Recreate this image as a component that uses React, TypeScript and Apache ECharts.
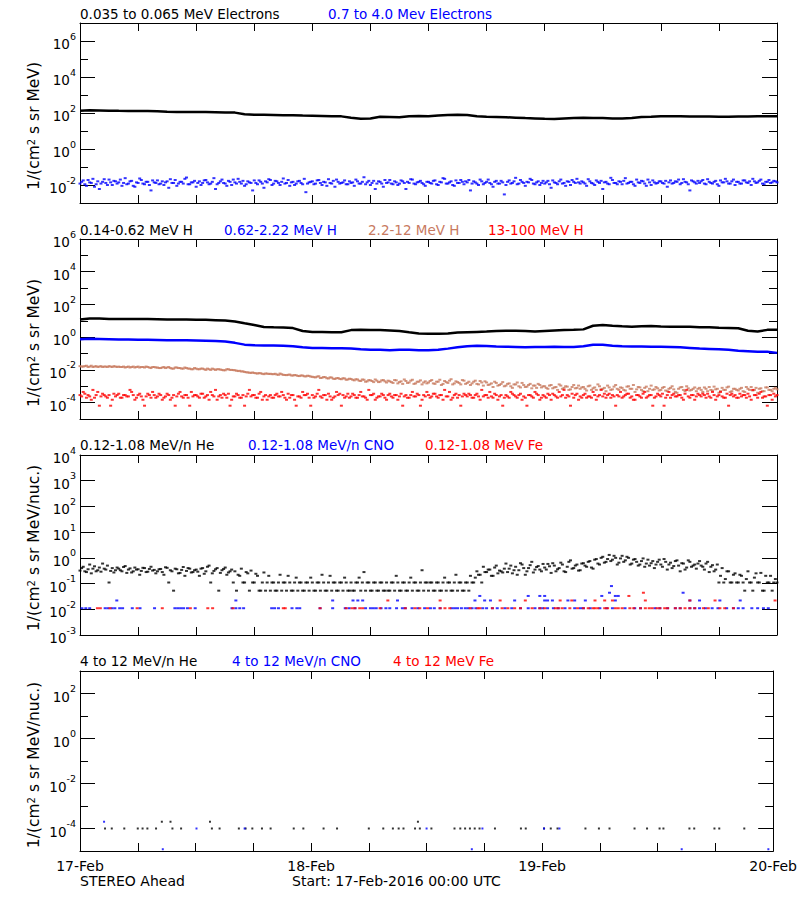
import React, { useEffect, useRef } from 'react';
import * as echarts from 'echarts';

const FONT = 'DejaVu Sans';
const BLACK = '#000000';
const BLUE = '#0000ff';
const RED = '#ff0000';
const BROWN = '#c87a5f';

// time bases (hours since 17-Feb-2016 00:00 UTC)
const hourly = Array.from({ length: 73 }, (_, i) => i);
const cadence20 = Array.from({ length: 217 }, (_, i) => i / 3);
const cadence20b = Array.from({ length: 216 }, (_, i) => i / 3 + 1 / 6);

const dayLabels = ['17-Feb', '18-Feb', '19-Feb', '20-Feb'];
const footLeft = 'STEREO Ahead';
const footRight = 'Start: 17-Feb-2016 00:00 UTC';
const yNames = [
  '1/(cm{s|2} s sr MeV)',
  '1/(cm{s|2} s sr MeV)',
  '1/(cm{s|2} s sr MeV/nuc.)',
  '1/(cm{s|2} s sr MeV/nuc.)',
];
const titles = [
  ['0.035 to 0.065 MeV Electrons', '0.7 to 4.0 Mev Electrons'],
  ['0.14-0.62 MeV H', '0.62-2.22 MeV H', '2.2-12 MeV H', '13-100 MeV H'],
  ['0.12-1.08 MeV/n He', '0.12-1.08 MeV/n CNO', '0.12-1.08 MeV Fe'],
  ['4 to 12 MeV/n He', '4 to 12 MeV/n CNO', '4 to 12 MeV Fe'],
];

// Panel 1: electrons
const eLow = [135,140,138,135,132,130,130,128,125,118,115,115,112,112,110,108,105,85,80,80,78,76,75,72,70,68,66,65,55,48,50,62,60,58,65,68,65,72,78,80,78,66,62,60,58,55,52,50,48,47,50,52,54,52,52,50,50,52,60,62,65,66,65,64,64,63,62,62,63,64,65,66,65];
const eHigh = [
  0.012,0.018,0.009,0.014,0.022,0.011,0.006,0.015,0.013,0.02,0.01,0.016,
  0.014,0.009,0.024,0.012,0.017,0.008,0.013,0.019,0.011,0.015,0.005,0.014,
  0.018,0.012,0.01,0.016,0.021,0.013,0.009,0.015,0.012,0.026,0.011,0.014,
  0.008,0.016,0.013,0.019,0.011,0.015,0.006,0.013,0.02,0.012,0.017,0.01,
  0.014,0.022,0.012,0.009,0.016,0.013,0.018,0.011,0.015,0.007,0.014,0.019,
  0.012,0.016,0.01,0.023,0.013,0.009,0.015,0.012,0.017,0.011,0.004,0.014,
  0.016,0.012,0.019,0.01,0.014,0.021,0.012,0.008,0.015,0.013,0.018,0.011,
  0.013,0.009,0.016,0.012,0.027,0.014,0.01,0.017,0.012,0.015,0.008,0.013,
  0.019,0.011,0.014,0.012,0.016,0.006,0.013,0.02,0.011,0.015,0.013,0.009,
  0.015,0.012,0.018,0.01,0.014,0.022,0.012,0.016,0.009,0.013,0.019,0.011,
  0.014,0.005,0.016,0.012,0.02,0.011,0.015,0.013,0.008,0.017,0.012,0.014,
  0.01,0.018,0.013,0.025,0.012,0.015,0.009,0.014,0.019,0.011,0.016,0.013,
  0.012,0.017,0.007,0.014,0.011,0.02,0.013,0.016,0.01,0.015,0.022,0.012,
  0.014,0.009,0.016,0.012,0.018,0.013,0.006,0.015,0.011,0.019,0.013,0.016,
  0.011,0.024,0.013,0.015,0.009,0.014,0.017,0.012,0.02,0.01,0.014,0.013,
  0.016,0.012,0.008,0.018,0.013,0.015,0.011,0.021,0.014,0.005,0.016,0.012,
  0.013,0.019,0.011,0.015,0.012,0.017,0.009,0.014,0.022,0.012,0.016,0.01,
  0.015,0.012,0.018,0.013,0.01,0.016,0.014,0.02,0.011,0.015,0.013,0.017,
  0.014,
];
const eHighB = [
  0.015,0.011,0.019,0.013,0.008,0.016,0.012,0.021,0.01,0.014,0.017,0.012,
  0.02,0.013,0.011,0.016,0.009,0.014,0.023,0.012,0.015,0.01,0.018,0.013,
  0.011,0.016,0.014,0.007,0.013,0.019,0.012,0.015,0.022,0.011,0.014,0.017,
  0.013,0.01,0.018,0.014,0.012,0.024,0.011,0.016,0.013,0.009,0.015,0.02,
  0.012,0.015,0.017,0.011,0.014,0.005,0.013,0.018,0.012,0.016,0.021,0.01,
  0.017,0.013,0.015,0.012,0.019,0.014,0.01,0.016,0.013,0.022,0.012,0.015,
  0.011,0.018,0.013,0.015,0.009,0.013,0.017,0.02,0.012,0.014,0.011,0.016,
  0.014,0.02,0.012,0.015,0.011,0.017,0.013,0.006,0.016,0.012,0.019,0.014,
  0.012,0.016,0.01,0.018,0.013,0.015,0.021,0.012,0.014,0.017,0.011,0.015,
  0.013,0.017,0.011,0.015,0.024,0.012,0.014,0.01,0.018,0.013,0.015,0.016,
  0.019,0.012,0.014,0.01,0.016,0.013,0.02,0.011,0.015,0.012,0.017,0.003,
  0.015,0.012,0.016,0.011,0.019,0.013,0.015,0.022,0.012,0.014,0.01,0.017,
  0.014,0.011,0.018,0.013,0.016,0.012,0.009,0.015,0.019,0.013,0.014,0.016,
  0.012,0.021,0.013,0.01,0.015,0.017,0.014,0.012,0.025,0.013,0.011,0.015,
  0.017,0.012,0.015,0.011,0.02,0.013,0.016,0.009,0.014,0.018,0.012,0.016,
  0.013,0.017,0.014,0.012,0.016,0.02,0.013,0.015,0.011,0.018,0.014,0.017,
  0.016,0.012,0.021,0.013,0.015,0.011,0.018,0.014,0.016,0.012,0.02,0.015,
  0.012,0.018,0.014,0.016,0.022,0.013,0.017,0.012,0.015,0.019,0.014,0.016,
];

// Panel 2: protons
const hLow = [12,14,14,13,13,13,13,13,12.5,12,12,12,11.5,11.5,11,10.5,9,7,5.5,4.2,4,3.9,3.6,2.4,2.1,2.1,2,2,2.7,2.8,2.7,2.7,2.6,2.4,2,1.7,1.6,1.6,1.7,1.9,2,2.1,2.2,2.4,2.5,2.5,2.4,2.2,2.4,2.6,2.7,2.8,3,5,5.5,5,4.6,4.4,4.6,4.8,4.5,4.3,4.4,4.3,4.1,4,3.8,3.7,3.5,2.5,2.2,2.8,2.8];
const hMid = [0.75,0.8,0.78,0.75,0.72,0.72,0.7,0.7,0.68,0.66,0.65,0.64,0.62,0.6,0.58,0.55,0.45,0.35,0.32,0.31,0.31,0.3,0.28,0.24,0.22,0.22,0.21,0.21,0.2,0.18,0.17,0.17,0.16,0.17,0.17,0.16,0.16,0.17,0.2,0.24,0.28,0.3,0.29,0.27,0.26,0.25,0.24,0.25,0.25,0.26,0.25,0.25,0.28,0.35,0.34,0.3,0.28,0.27,0.27,0.26,0.26,0.25,0.24,0.22,0.2,0.19,0.18,0.17,0.15,0.14,0.13,0.13,0.11];
const hHigh = [
  0.017,0.016,0.018,0.016,0.015,0.017,0.016,0.015,0.016,0.017,0.015,0.016,
  0.016,0.015,0.014,0.016,0.015,0.014,0.016,0.015,0.014,0.015,0.013,0.015,
  0.014,0.013,0.015,0.014,0.013,0.012,0.014,0.013,0.012,0.013,0.012,0.011,
  0.012,0.011,0.012,0.01,0.011,0.012,0.01,0.011,0.01,0.0095,0.011,0.01,
  0.0095,0.0085,0.008,0.0075,0.007,0.0065,0.0065,0.006,0.0062,0.0055,0.006,0.0058,
  0.0055,0.0052,0.006,0.005,0.0048,0.0052,0.0045,0.0047,0.0042,0.0045,0.004,0.0043,
  0.0038,0.0035,0.0041,0.0033,0.0036,0.003,0.0034,0.0028,0.0032,0.0027,0.003,0.0026,
  0.0028,0.0023,0.0026,0.0021,0.0025,0.002,0.0023,0.0018,0.0022,0.0019,0.0024,0.0017,
  0.002,0.0016,0.0023,0.0018,0.0014,0.0021,0.0017,0.0025,0.0015,0.0019,0.0013,0.002,
  0.0017,0.0024,0.0014,0.0019,0.0012,0.0021,0.0016,0.0027,0.0015,0.0018,0.0013,0.0022,
  0.0016,0.0012,0.0019,0.0014,0.0021,0.0011,0.0017,0.0013,0.0009,0.0016,0.0012,0.0018,
  0.0011,0.0015,0.0008,0.0013,0.001,0.0016,0.0009,0.0012,0.00075,0.0011,0.0014,0.00085,
  0.001,0.0007,0.0012,0.00085,0.0006,0.0011,0.0008,0.00095,0.00065,0.0012,0.0008,0.0007,
  0.0009,0.00055,0.0011,0.00075,0.0006,0.001,0.0007,0.0005,0.00085,0.00065,0.0012,0.0006,
  0.0008,0.00055,0.001,0.0007,0.00045,0.0009,0.0006,0.0008,0.0005,0.0011,0.00065,0.00075,
  0.0006,0.0009,0.0005,0.0008,0.00065,0.0004,0.00085,0.0006,0.001,0.00055,0.0007,0.0005,
  0.0008,0.00045,0.0007,0.0009,0.00055,0.00065,0.0004,0.0008,0.0006,0.00095,0.0005,0.0007,
  0.00055,0.0008,0.00045,0.0007,0.0009,0.0006,0.0004,0.00075,0.0005,0.00085,0.0006,0.0007,
  0.00065,
];
const hHighB = [
  0.016,0.017,0.015,0.018,0.016,0.015,0.017,0.016,0.015,0.016,0.017,0.015,
  0.015,0.016,0.015,0.014,0.016,0.015,0.014,0.015,0.016,0.014,0.015,0.014,
  0.013,0.014,0.013,0.015,0.012,0.014,0.013,0.012,0.014,0.012,0.011,0.013,
  0.011,0.012,0.011,0.012,0.01,0.011,0.011,0.0105,0.0095,0.011,0.01,0.0098,
  0.009,0.0088,0.0082,0.0072,0.0068,0.007,0.0062,0.0064,0.0058,0.006,0.0056,0.0055,
  0.0058,0.005,0.0054,0.0049,0.005,0.0046,0.0049,0.0043,0.0046,0.0041,0.0044,0.0039,
  0.0036,0.0039,0.0032,0.0037,0.0031,0.0035,0.0029,0.0031,0.0028,0.0031,0.0025,0.0029,
  0.0025,0.0027,0.0022,0.0026,0.0019,0.0024,0.0021,0.0026,0.0018,0.0023,0.002,0.0022,
  0.0018,0.0024,0.0015,0.002,0.0026,0.0016,0.0022,0.0014,0.0019,0.0023,0.0017,0.0015,
  0.0021,0.0015,0.0019,0.0025,0.0014,0.0018,0.0022,0.0013,0.002,0.0016,0.0024,0.0014,
  0.0019,0.0015,0.0022,0.0013,0.0017,0.002,0.0012,0.0015,0.0019,0.0011,0.0014,0.001,
  0.0014,0.001,0.0013,0.0017,0.00085,0.0012,0.00095,0.0014,0.0011,0.0008,0.0012,0.001,
  0.0008,0.0011,0.00075,0.0009,0.0013,0.0007,0.001,0.0006,0.0009,0.00075,0.0011,0.00085,
  0.0007,0.001,0.0006,0.00085,0.0013,0.00065,0.0008,0.0011,0.0006,0.00095,0.0007,0.00085,
  0.0006,0.00095,0.0007,0.0012,0.00065,0.00085,0.0005,0.00095,0.0007,0.0006,0.0009,0.00055,
  0.0008,0.00055,0.0007,0.001,0.00045,0.0007,0.0009,0.0005,0.00075,0.0006,0.00085,0.0007,
  0.0006,0.00085,0.0005,0.0006,0.00095,0.0007,0.0005,0.0006,0.00085,0.00045,0.0007,0.0006,
  0.0007,0.0005,0.0009,0.0006,0.00055,0.0008,0.0007,0.0005,0.00085,0.0006,0.0005,0.0008,
];
const hTop = [
  0.00029,0.00045,0.0002,0.00024,0.0006,0.00029,0.000065,0.00035,0.00024,0.00029,0.00015,0.00024,
  0.00035,0.0002,0.00029,0.00024,0.00045,0.00015,0.00029,0.00024,0.000065,0.00035,0.0002,0.00029,
  0.00024,0.00029,0.0002,0.00035,0.00015,0.00029,0.00024,0.00045,0.0002,0.00029,0.000065,0.00024,
  0.00029,0.0002,0.00035,0.00024,0.00015,0.00029,0.0006,0.00024,0.0002,0.00029,0.00035,0.00015,
  0.00024,0.00029,0.0002,0.000065,0.00035,0.00024,0.00029,0.0002,0.00045,0.00024,0.00015,0.00029,
  0.0002,0.00035,0.00024,0.00029,0.00015,0.0002,0.00029,0.000065,0.00024,0.00045,0.00029,0.0002,
  0.00029,0.00024,0.0006,0.0002,0.00029,0.00035,0.00015,0.00024,0.00029,0.000065,0.0002,0.00035,
  0.00024,0.00029,0.0002,0.00045,0.00024,0.00015,0.00029,0.00035,0.0002,0.00024,0.00029,0.00015,
  0.00035,0.0002,0.00029,0.00024,0.000065,0.00029,0.0002,0.00045,0.00024,0.00029,0.00015,0.00024,
  0.00029,0.00024,0.00035,0.0002,0.00029,0.0006,0.00024,0.00015,0.00029,0.0002,0.000065,0.00035,
  0.00024,0.00029,0.0002,0.00035,0.00015,0.00024,0.00029,0.00045,0.0002,0.00029,0.00024,0.000065,
  0.00029,0.0002,0.00035,0.00024,0.00029,0.00015,0.0002,0.00029,0.00024,0.00045,0.00029,0.0002,
  0.00024,0.00035,0.00015,0.00029,0.0002,0.00024,0.0006,0.00029,0.000065,0.0002,0.00035,0.00024,
  0.00029,0.0002,0.00024,0.00045,0.00015,0.00029,0.00024,0.0002,0.00035,0.00029,0.000065,0.00024,
  0.0002,0.00029,0.00035,0.00024,0.00015,0.00029,0.0002,0.00045,0.00024,0.00029,0.0002,0.00035,
  0.00024,0.000065,0.00029,0.0002,0.00035,0.00024,0.00029,0.00015,0.0006,0.0002,0.00029,0.00024,
  0.00029,0.00035,0.0002,0.00024,0.00045,0.00015,0.00029,0.00024,0.0002,0.000065,0.00035,0.00029,
  0.0002,0.00024,0.00029,0.00035,0.00015,0.00029,0.0002,0.00045,0.00024,0.000065,0.00029,0.00035,
  0.00029,
];
const hTopB = [
  0.00024,0.00035,0.00029,0.00015,0.0002,0.00045,0.00024,0.00029,0.0002,0.000065,0.00035,0.00029,
  0.0002,0.00029,0.00024,0.0006,0.00029,0.0002,0.00035,0.00015,0.00024,0.00029,0.00045,0.0002,
  0.00035,0.00015,0.00024,0.00029,0.0002,0.000065,0.00035,0.00024,0.00029,0.0002,0.00045,0.00029,
  0.00024,0.00035,0.0002,0.00029,0.00045,0.00024,0.00015,0.00029,0.00035,0.0002,0.000065,0.00024,
  0.00035,0.0002,0.00029,0.00024,0.0006,0.00029,0.0002,0.00035,0.00015,0.00029,0.00024,0.0002,
  0.00029,0.00024,0.00045,0.0002,0.00035,0.00029,0.00015,0.00024,0.0002,0.00029,0.00035,0.000065,
  0.0002,0.00035,0.00024,0.00029,0.00015,0.00024,0.0002,0.00045,0.00035,0.00029,0.00024,0.0002,
  0.00035,0.0002,0.00029,0.00024,0.0002,0.0006,0.00029,0.00015,0.00024,0.00035,0.0002,0.00029,
  0.00024,0.00029,0.00015,0.00035,0.00024,0.0002,0.00029,0.00024,0.00035,0.000065,0.00029,0.00045,
  0.0002,0.00035,0.00024,0.00029,0.00015,0.00024,0.00045,0.0002,0.00035,0.00029,0.00024,0.00029,
  0.00035,0.0002,0.00029,0.00024,0.0006,0.00029,0.0002,0.00024,0.00035,0.00015,0.00029,0.0002,
  0.00024,0.00045,0.00029,0.0002,0.00035,0.00024,0.000065,0.00029,0.0002,0.00035,0.00015,0.00029,
  0.0002,0.00029,0.00035,0.00024,0.00045,0.00029,0.0002,0.00024,0.00035,0.00029,0.00015,0.0002,
  0.00035,0.00024,0.0002,0.00029,0.00024,0.0006,0.00035,0.00029,0.0002,0.00024,0.00029,0.00045,
  0.00024,0.00035,0.0002,0.00015,0.00029,0.00024,0.00035,0.0002,0.00029,0.000065,0.00024,0.00029,
  0.00035,0.0002,0.00045,0.00029,0.00024,0.00029,0.0002,0.00035,0.00024,0.00029,0.00015,0.00035,
  0.00024,0.00029,0.00035,0.0002,0.00029,0.00024,0.00045,0.0002,0.00035,0.00029,0.00024,0.0002,
  0.00035,0.00029,0.0002,0.00024,0.0006,0.00029,0.00035,0.0002,0.00024,0.00029,0.00015,0.00024,
];

// Panel 3: 0.12-1.08 MeV/n ions
const heLow = [
  0.32,0.45,0.28,0.55,0.38,0.3,0.42,0.6,0.35,0.11,0.4,0.33,
  0.38,0.3,0.48,0.35,0.27,0.42,0.36,0.31,0.4,0.29,0.45,0.34,
  0.3,0.37,0.22,0.41,0.33,0.053,0.36,0.26,0.44,0.31,0.38,0.28,
  0.35,0.2,0.4,0.3,0.5,0.25,0.36,0.053,0.33,0.42,0.27,0.35,
  0.3,0.22,0.38,0.11,0.25,0.32,0.11,0.2,0.053,0.27,0.11,0.053,
  0.11,0.053,0.22,0.11,0.053,0.11,0.053,0.17,0.11,0.053,0.11,0.053,
  0.11,0.053,0.11,0.22,0.053,0.11,0.053,0.11,0.053,0.11,0.17,0.053,
  0.11,0.053,0.11,0.053,0.28,0.11,0.053,0.11,0.053,0.11,0.053,0.11,
  0.053,0.11,0.2,0.053,0.11,0.053,0.11,0.053,0.11,0.053,0.33,0.11,
  0.053,0.11,0.053,0.11,0.053,0.17,0.11,0.053,0.11,0.053,0.11,0.053,
  0.11,0.2,0.11,0.3,0.22,0.45,0.28,0.35,0.2,0.5,0.32,0.27,
  0.6,0.38,0.25,0.45,0.33,0.55,0.22,0.4,0.7,0.35,0.48,0.3,
  0.42,0.58,0.26,0.5,0.36,0.65,0.3,0.45,0.8,0.4,0.55,0.33,
  0.62,0.45,0.75,0.38,0.9,0.55,1.1,0.7,1.3,0.85,1.0,0.65,
  1.2,0.8,1.0,0.6,0.9,0.5,0.75,0.45,0.85,0.62,0.4,0.7,
  0.55,0.9,0.35,0.65,0.48,0.8,0.3,0.6,0.42,0.7,0.5,0.38,
  0.75,0.45,0.6,0.28,0.52,0.35,0.11,0.4,0.15,0.3,0.11,0.25,
  0.11,0.2,0.053,0.3,0.11,0.17,0.11,0.26,0.053,0.11,0.2,0.11,
  0.11,
];
const heLowB = [
  0.4,0.3,0.36,0.25,0.47,0.33,0.29,0.38,0.5,0.31,0.27,0.42,
  0.33,0.44,0.26,0.39,0.3,0.35,0.22,0.41,0.28,0.37,0.32,0.25,
  0.36,0.28,0.43,0.11,0.3,0.38,0.25,0.34,0.2,0.4,0.27,0.33,
  0.29,0.38,0.24,0.45,0.11,0.31,0.4,0.26,0.37,0.22,0.3,0.11,
  0.053,0.2,0.11,0.28,0.053,0.11,0.24,0.053,0.11,0.053,0.2,0.11,
  0.053,0.11,0.053,0.11,0.2,0.053,0.11,0.053,0.11,0.053,0.11,0.17,
  0.053,0.11,0.053,0.11,0.053,0.2,0.11,0.053,0.11,0.053,0.11,0.053,
  0.053,0.11,0.17,0.11,0.053,0.11,0.053,0.11,0.053,0.11,0.053,0.053,
  0.11,0.053,0.11,0.053,0.11,0.053,0.17,0.11,0.053,0.11,0.053,0.11,
  0.11,0.053,0.11,0.053,0.11,0.053,0.11,0.053,0.22,0.11,0.053,0.11,
  0.053,0.11,0.17,0.22,0.11,0.28,0.35,0.2,0.42,0.25,0.3,0.38,
  0.28,0.5,0.33,0.22,0.62,0.4,0.3,0.52,0.27,0.44,0.35,0.58,
  0.35,0.47,0.62,0.3,0.4,0.55,0.28,0.7,0.38,0.5,0.32,0.6,
  0.5,0.7,0.42,0.85,0.6,1.0,0.65,0.9,0.75,1.2,0.55,0.95,
  0.7,1.1,0.55,0.85,0.7,0.55,0.95,0.6,0.5,0.75,0.55,0.85,
  0.45,0.7,0.55,0.4,0.75,0.5,0.62,0.35,0.8,0.45,0.55,0.6,
  0.5,0.35,0.7,0.45,0.3,0.55,0.2,0.11,0.3,0.11,0.22,0.11,
  0.22,0.11,0.15,0.11,0.053,0.25,0.11,0.053,0.2,0.11,0.053,0.15,
];
// [hour, value]
const cnoLow = [
  ...[0.2,0.6,1.0,2.6,2.9,3.3,3.6,4.1,4.4,5.4,6.2,7.7,9.8,10.1,10.4,10.7,11.1,11.9,15.7,16.1,16.5,16.9,19.8,20.1,20.5,21.9,22.4,22.7,24.8,26.1,27.4,27.8,28.4,29.5,30.0,30.3,30.6,31.1,31.6,32.0,32.7,33.3,33.6,34.3,34.9,35.6,36.2,36.6,37.2,38.4,38.7,39.0,39.4,39.8,40.1,40.5,40.9,41.6,42.0,42.6,43.1,43.9,44.6,45.5,46.3,47.0,47.5,47.8,48.3,48.9,49.4,50.1,51.1,51.7,52.0,52.7,53.7,54.4,55.0,56.3,57.3,57.9,59.4,59.9,60.7,61.5,62.0,63.0,63.5,64.0,64.6,65.3,65.9,66.8,67.5,68.0,68.5,69.4,70.0,70.6,71.1].map((h) => [h, 0.011]),
  ...[3.8,16.1,26.1,28.2,28.7,29.2,32.8,40.8,41.8,42.4,44.9,48.0,48.3,48.8,50.4,51.1,52.2,55.3,63.0,64.0,66.1,68.2].map((h) => [h, 0.022]),
  ...[41.3,46.3,47.5,48.0,53.9,55.3,55.6].map((h) => [h, 0.033]),
  [54.7, 0.044], [62.3, 0.044], [54.9, 0.08],
];
const feLow = [
  ...[1.8,2.1,3.1,5.9,8.5,11.4,13.2,13.7,15.8,21.0,21.2,24.8,27.5,28.1,28.4,28.9,29.2,31.0,33.6,34.6,35.1,35.9,37.2,37.7,38.2,40.3,41.1,41.3,42.6,43.6,44.2,44.9,45.5,46.7,47.5,48.0,49.1,49.4,49.8,50.6,51.4,52.0,52.5,53.0,53.2,53.5,54.2,54.5,55.3,55.6,56.0,56.8,57.2,57.9,58.4,58.8,59.1,59.6,59.9,60.4,60.7,61.5,62.0,62.5,63.0,63.5,64.4,64.9,66.1,66.6,67.5].map((h) => [h, 0.011]),
  ...[31.8,37.2,43.4,46.0,49.6,50.8,53.2,54.2,55.0,58.4,63.0,65.6,71.8].map((h) => [h, 0.022]),
  [56.7, 0.033], [58.2, 0.044],
];

// Panel 4: 4-12 MeV/n ions
const heHigh = [
  ...[2.6,3.3,4.6,6.0,6.5,7.0,7.9,9.6,10.5,13.7,14.5,16.5,17.2,17.9,18.9,19.8,22.2,23.2,25.3,26.7,30.0,31.5,32.5,33.1,33.6,34.8,35.3,36.5,38.9,39.5,40.0,40.5,41.0,41.5,43.1,45.8,46.3,48.2,48.9,49.6,52.5,53.9,55.0,57.6,58.9,60.2,60.6,63.3,63.8,65.9,66.4,69.0].map((h) => [h, 1e-4]),
  ...[8.5,9.4,13.5,35.1].map((h) => [h, 2e-4]),
];
const cnoHigh = [
  [2.5, 2e-4], [12.1, 1e-4], [17.1, 1e-4], [36.0, 1e-4], [41.8, 1e-4], [48.2, 1e-4], [49.8, 1e-4],
  [8.6, 1.2e-5], [40.7, 1.2e-5], [62.5, 1.2e-5], [71.5, 1.2e-5],
];
const feHigh: number[][] = [];

const zip = (t: number[], v: number[]) => v.map((y, i) => [t[i], y]);

const panels = [
  { top: 23, min: 1e-3, max: 1e7, base: 100, minor: [-3, 7] },
  { top: 239, min: 1e-5, max: 1e6, base: 100, minor: [-5, 6] },
  { top: 455, min: 1e-3, max: 1e4, base: 10, minor: null as null | number[] },
  { top: 671, min: 1e-5, max: 1e3, base: 100, minor: [-5, 3] },
];
const titleX = [[80, 328], [80, 224, 368, 488], [80, 248, 425], [80, 232, 393]];
const titleColors = [[BLACK, BLUE], [BLACK, BLUE, BROWN, RED], [BLACK, BLUE, RED], [BLACK, BLUE, RED]];
const titleY = [13.5, 229.5, 445, 661];
const nameY = [126, 343, 548, 765];

function buildOption() {
  const line = { color: BLACK, width: 1 };
  const grid = panels.map((p) => ({ left: 80, top: p.top, width: 697, height: 180 }));
  const xAxis: any[] = [];
  const yAxis: any[] = [];
  const dataY: number[] = [];
  panels.forEach((p, i) => {
    ['bottom', 'top'].forEach((pos) => {
      xAxis.push({
        gridIndex: i, type: 'value', min: 0, max: 72, interval: 6, position: pos,
        axisLine: { show: true, onZero: false, lineStyle: line },
        axisTick: { show: true, inside: true, length: 8, lineStyle: line },
        splitLine: { show: false },
        axisLabel: i === 3 && pos === 'bottom'
          ? {
              show: true, margin: 8, color: BLACK, fontFamily: FONT, fontSize: 14,
              formatter: (v: number) => (v % 24 === 0 ? dayLabels[v / 24] : ''),
            }
          : { show: false },
      });
    });
    const fmt = (v: number) => {
      const l = Math.log10(v);
      const e = Math.round(l);
      if (Math.abs(l - e) > 1e-6) return '';
      if (p.base === 100 && e % 2 !== 0) return '';
      return `{b|10}{s|${e}}`;
    };
    ['left', 'right'].forEach((pos) => {
      if (pos === 'left') dataY[i] = yAxis.length;
      yAxis.push({
        gridIndex: i, type: 'log', logBase: p.base, min: p.min, max: p.max, position: pos,
        axisLine: { show: true, onZero: false, lineStyle: line },
        axisTick: { show: true, inside: true, length: 15, lineStyle: line },
        splitLine: { show: false },
        minorTick: { show: false },
        axisLabel: pos === 'left'
          ? {
              show: true, margin: 4, formatter: fmt, color: BLACK,
              rich: {
                b: { fontFamily: FONT, fontSize: 13.5, color: BLACK, lineHeight: 20, verticalAlign: 'bottom' },
                s: { fontFamily: FONT, fontSize: 9.5, color: BLACK, lineHeight: 10, verticalAlign: 'top' },
              },
            }
          : { show: false },
      });
    });
    if (p.minor) {
      ['left', 'right'].forEach((pos) => {
        yAxis.push({
          gridIndex: i, type: 'value', min: p.minor![0], max: p.minor![1], interval: 1, position: pos,
          axisLine: { show: false, onZero: false },
          axisTick: { show: true, inside: true, length: 8, lineStyle: line },
          splitLine: { show: false },
          axisLabel: { show: false },
        });
      });
    }
  });

  const lineS = (g: number, data: number[][], color: string) => ({
    type: 'line', xAxisIndex: g * 2, yAxisIndex: dataY[g], data, showSymbol: false, symbol: 'none',
    lineStyle: { color, width: 2.5 }, itemStyle: { color }, silent: true,
  });
  const dots = (g: number, data: number[][], color: string, size: number[]) => ({
    type: 'scatter', xAxisIndex: g * 2, yAxisIndex: dataY[g], data, symbol: 'rect', symbolSize: size,
    itemStyle: { color }, silent: true,
  });

  const series = [
    lineS(0, zip(hourly, eLow), BLACK),
    dots(0, zip(cadence20, eHigh), BLUE, [3, 2]),
    dots(0, zip(cadence20b, eHighB), BLUE, [3, 2]),
    lineS(1, zip(hourly, hLow), BLACK),
    lineS(1, zip(hourly, hMid), BLUE),
    dots(1, zip(cadence20, hHigh), BROWN, [3, 2]),
    dots(1, zip(cadence20b, hHighB), BROWN, [3, 2]),
    dots(1, zip(cadence20, hTop), RED, [3, 2]),
    dots(1, zip(cadence20b, hTopB), RED, [3, 2]),
    dots(2, zip(cadence20, heLow), BLACK, [3, 2]),
    dots(2, zip(cadence20b, heLowB), BLACK, [3, 2]),
    dots(2, cnoLow, BLUE, [3, 2]),
    dots(2, feLow, RED, [3, 2]),
    dots(3, heHigh, BLACK, [2, 2]),
    dots(3, cnoHigh, BLUE, [2, 2]),
    dots(3, feHigh, RED, [2, 2]),
  ];

  const graphic: any[] = [];
  titles.forEach((row, i) => {
    row.forEach((t, j) => {
      graphic.push({
        type: 'text', x: titleX[i][j], y: titleY[i], silent: true,
        style: {
          text: t, fill: titleColors[i][j], fontFamily: FONT, fontSize: 13.5,
          align: 'left', textAlign: 'left', verticalAlign: 'middle', textVerticalAlign: 'middle',
        },
      });
    });
  });
  yNames.forEach((n, i) => {
    graphic.push({
      type: 'text', x: 34, y: nameY[i], rotation: Math.PI / 2, silent: true,
      style: {
        text: n, fill: BLACK, fontFamily: FONT, fontSize: 15.5,
        align: 'center', textAlign: 'center', verticalAlign: 'middle', textVerticalAlign: 'middle',
        rich: { s: { fontFamily: FONT, fontSize: 10, lineHeight: 10, verticalAlign: 'top', fill: BLACK, color: BLACK } },
      },
    });
  });
  graphic.push({
    type: 'text', x: 80, y: 881, silent: true,
    style: { text: footLeft, fill: BLACK, fontFamily: FONT, fontSize: 14, align: 'left', verticalAlign: 'middle', textVerticalAlign: 'middle' },
  });
  graphic.push({
    type: 'text', x: 292, y: 881, silent: true,
    style: { text: footRight, fill: BLACK, fontFamily: FONT, fontSize: 14, align: 'left', verticalAlign: 'middle', textVerticalAlign: 'middle' },
  });

  return {
    animation: false,
    backgroundColor: '#ffffff',
    textStyle: { fontFamily: FONT },
    grid, xAxis, yAxis, series, graphic,
  };
}

export default function App() {
  const ref = useRef<HTMLDivElement>(null);
  useEffect(() => {
    if (!ref.current) return;
    const chart = echarts.init(ref.current, null, { renderer: 'svg' });
    chart.setOption(buildOption() as any);
    return () => chart.dispose();
  }, []);
  return <div ref={ref} style={{ position: 'absolute', left: 0, top: 0, width: 800, height: 900 }} />;
}
